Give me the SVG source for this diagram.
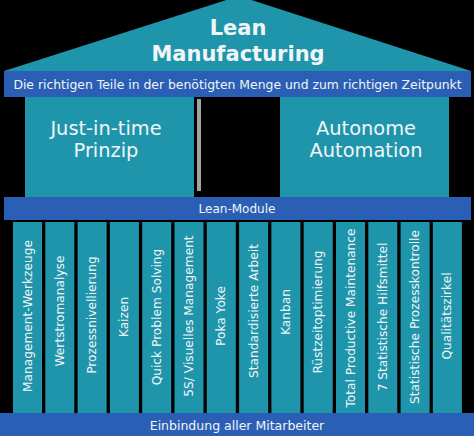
<svg xmlns="http://www.w3.org/2000/svg" width="474" height="436" viewBox="0 0 474 436">
<style>
.teal{fill:#1f95ab}
.blue{fill:#2b5fb5}
.t{fill:#f2f5f7;font-family:"DejaVu Sans",Verdana,sans-serif;text-anchor:middle}
.col{font-size:12.2px;dominant-baseline:central}
</style>
<rect width="474" height="436" fill="#000"/>
<g id="roof">
<polygon class="teal" points="4,71 239,-4 471,71"/>
<text class="t" x="238" y="35" font-size="21" font-weight="bold">Lean</text>
<text class="t" x="238" y="61" font-size="21" font-weight="bold">Manufacturing</text>
</g>
<g id="goal">
<rect class="blue" x="4" y="71" width="467" height="26"/>
<text class="t" x="237.5" y="88.5" font-size="12.4">Die richtigen Teile in der benötigten Menge und zum richtigen Zeitpunkt</text>
</g>
<g id="jit">
<rect class="teal" x="25" y="97" width="169" height="100"/>
<text class="t" x="106" y="135" font-size="19.4">Just-in-time</text>
<text class="t" x="106" y="157" font-size="19.4">Prinzip</text>
</g>
<g id="artifact">
<rect x="197" y="99" width="4" height="92" fill="#a3a3a3"/>
</g>
<g id="automation">
<rect class="teal" x="280" y="97" width="169" height="100"/>
<text class="t" x="366" y="135" font-size="19.4">Autonome</text>
<text class="t" x="366" y="157" font-size="19.4">Automation</text>
</g>
<g id="modules">
<rect class="blue" x="4" y="197" width="467" height="23"/>
<text class="t" x="237" y="213" font-size="12">Lean-Module</text>
</g>
<g id="columns">
<g id="c1"><rect class="teal" x="13" y="222" width="29" height="191"/><text class="t col" transform="translate(27.5,316) rotate(-90)">Management-Werkzeuge</text></g>
<g id="c2"><rect class="teal" x="45.3" y="222" width="29" height="191"/><text class="t col" transform="translate(59.8,311) rotate(-90)">Wertstromanalyse</text></g>
<g id="c3"><rect class="teal" x="77.6" y="222" width="29" height="191"/><text class="t col" transform="translate(92.1,315) rotate(-90)">Prozessnivellierung</text></g>
<g id="c4"><rect class="teal" x="109.9" y="222" width="29" height="191"/><text class="t col" transform="translate(124.4,317) rotate(-90)">Kaizen</text></g>
<g id="c5"><rect class="teal" x="142.2" y="222" width="29" height="191"/><text class="t col" transform="translate(156.7,317) rotate(-90)">Quick Problem Solving</text></g>
<g id="c6"><rect class="teal" x="174.5" y="222" width="29" height="191"/><text class="t col" transform="translate(189,316) rotate(-90)">5S/ Visuelles Management</text></g>
<g id="c7"><rect class="teal" x="206.8" y="222" width="29" height="191"/><text class="t col" transform="translate(221.3,316) rotate(-90)">Poka Yoke</text></g>
<g id="c8"><rect class="teal" x="239.1" y="222" width="29" height="191"/><text class="t col" transform="translate(253.6,311) rotate(-90)">Standardisierte Arbeit</text></g>
<g id="c9"><rect class="teal" x="271.4" y="222" width="29" height="191"/><text class="t col" transform="translate(285.9,312) rotate(-90)">Kanban</text></g>
<g id="c10"><rect class="teal" x="303.7" y="222" width="29" height="191"/><text class="t col" transform="translate(318.2,312) rotate(-90)">Rüstzeitoptimierung</text></g>
<g id="c11"><rect class="teal" x="336" y="222" width="29" height="191"/><text class="t col" transform="translate(350.5,318) rotate(-90)">Total Productive Maintenance</text></g>
<g id="c12"><rect class="teal" x="368.3" y="222" width="29" height="191"/><text class="t col" transform="translate(382.8,317) rotate(-90)">7 Statistische Hilfsmittel</text></g>
<g id="c13"><rect class="teal" x="400.6" y="222" width="29" height="191"/><text class="t col" transform="translate(415.1,317) rotate(-90)">Statistische Prozesskontrolle</text></g>
<g id="c14"><rect class="teal" x="432.9" y="222" width="29" height="191"/><text class="t col" transform="translate(447.4,316) rotate(-90)">Qualitätszirkel</text></g>
</g>
<g id="base">
<rect class="blue" x="0" y="413" width="474" height="23"/>
<text class="t" x="237" y="430" font-size="12.5">Einbindung aller Mitarbeiter</text>
</g>
</svg>
